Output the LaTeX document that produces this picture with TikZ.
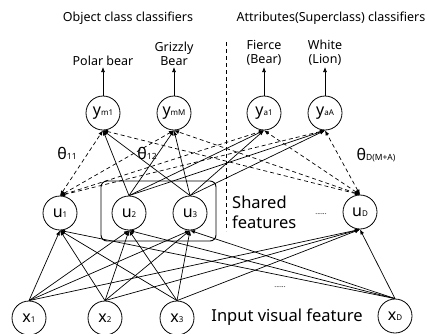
\documentclass[tikz,border=0pt]{standalone}
\usepackage{fontspec}
\setmainfont{Noto Sans}
\usetikzlibrary{arrows.meta}
\newcommand\nlab[2]{{\fontsize{16}{16}\selectfont #1}{\fontsize{8}{8}\selectfont #2}}
\newcommand\thlab[1]{{\fontsize{16}{16}\selectfont θ}{\fontsize{8.5}{8.5}\selectfont #1}}
\begin{document}
\begin{tikzpicture}[x=1pt,y=-1pt,
 neuron/.style={circle,draw,line width=0.8pt,minimum size=34pt,inner sep=0pt},
 conn/.style={line width=0.7pt,-{Latex[length=5pt,width=4pt]}},
 dconn/.style={line width=0.7pt,dash pattern=on 4pt off 3pt,{Latex[length=5pt,width=4pt]}-{Latex[length=5pt,width=4pt]}},
 lbl/.style={font=\fontsize{12.5}{14}\selectfont,align=center,inner sep=1pt},
 big/.style={font=\fontsize{16.5}{20}\selectfont,inner sep=0pt}
]
\useasboundingbox (0,0) rectangle (428,333);
% titles
\node[lbl] (t1) at (128,18) {Object class classifiers};
\node[lbl] (t2) at (331,18) {Attributes(Superclass) classifiers};
% output neurons
\node[neuron] (ym1) at (103,113) {\nlab{y}{m1}};
\node[neuron] (ymM) at (174,113) {\nlab{y}{mM}};
\node[neuron] (ya1) at (264,113) {\nlab{y}{a1}};
\node[neuron] (yaA) at (325,113) {\nlab{y}{aA}};
% output labels
\node[lbl,anchor=south] (l1) at (103,67) {Polar bear};
\node[lbl,anchor=south] (l2) at (174,67) {Grizzly\\Bear};
\node[lbl,anchor=south] (l3) at (264,67) {Fierce\\(Bear)};
\node[lbl,anchor=south] (l4) at (325,67) {White\\(Lion)};
\draw[conn] (ym1.north) -- (l1.south);
\draw[conn] (ymM.north) -- (l2.south);
\draw[conn] (ya1.north) -- (l3.south);
\draw[conn] (yaA.north) -- (l4.south);
% hidden neurons
\node[neuron] (u1) at (60,213) {\nlab{u}{1}};
\node[neuron] (u2) at (129,213) {\nlab{u}{2}};
\node[neuron] (u3) at (190,213) {\nlab{u}{3}};
\node[neuron] (uD) at (360,212) {\nlab{u}{D}};
% input neurons
\node[neuron] (x1) at (29,318) {\nlab{x}{1}};
\node[neuron] (x2) at (105,318) {\nlab{x}{2}};
\node[neuron] (x3) at (177,318) {\nlab{x}{3}};
\node[neuron] (xD) at (395,316) {\nlab{x}{D}};
% shared box and separator
\draw[line width=0.9pt,rounded corners=6pt] (101,181) rectangle (216,241);
\coordinate (s1) at (226,42);
\coordinate (s2) at (226,231);
\draw[line width=0.7pt,dash pattern=on 4pt off 3pt] (s1) -- (s2);
% connections
\foreach \a in {x1,x2,x3,xD}
  \foreach \b in {u1,u2,u3,uD}
    \draw[conn] (\a.north) -- (\b.south);
\foreach \a in {u2,u3}
  \foreach \b in {ym1,ymM,ya1,yaA}
    \draw[conn] (\a.north) -- (\b.south);
\foreach \a in {u1,uD}
  \foreach \b in {ym1,ymM,ya1,yaA}
    \draw[dconn] (\a.north) -- (\b.south);
% theta labels
\node (th1) at (67,153) {\thlab{11}};
\node (th2) at (147,153) {\thlab{12}};
\node (th3) at (376,155) {\thlab{D(M+A)}};
% texts
\node[big,anchor=west,align=left] (sf) at (232,212) {Shared\\features};
\node[font=\fontsize{7}{8}\selectfont] (d1) at (321,214) {......};
\node[font=\fontsize{7}{8}\selectfont] (d2) at (280,287) {......};
\node[big] (ivf) at (287,317) {Input visual feature};
\end{tikzpicture}
\end{document}
